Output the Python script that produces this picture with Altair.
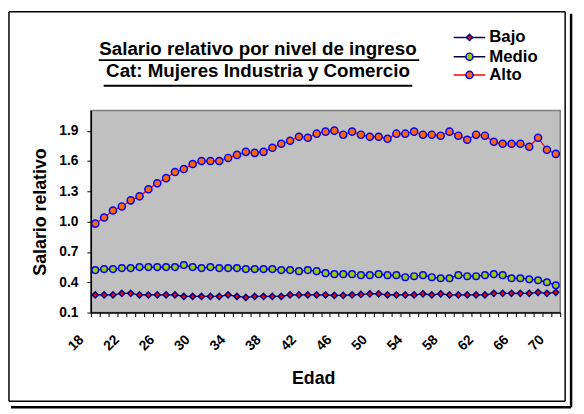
import altair as alt
import pandas as pd

# ---------------- data ----------------
ages = list(range(18, 71))
bajo = [0.275, 0.275, 0.275, 0.29, 0.29, 0.275, 0.275, 0.275, 0.275, 0.275,
        0.26, 0.26, 0.26, 0.26, 0.26, 0.275, 0.26, 0.25, 0.26, 0.26,
        0.26, 0.26, 0.275, 0.275, 0.275, 0.275, 0.275,
        0.27, 0.27, 0.275, 0.28, 0.285, 0.285, 0.275, 0.275, 0.275,
        0.275, 0.285, 0.275, 0.285, 0.275, 0.275, 0.275, 0.275, 0.275,
        0.29, 0.29, 0.29, 0.29, 0.29, 0.30, 0.29, 0.30]
medio = [0.52, 0.53, 0.53, 0.54, 0.54, 0.55, 0.55, 0.55, 0.55, 0.55,
         0.57, 0.55, 0.54, 0.55, 0.54, 0.54, 0.54, 0.53, 0.53, 0.53,
         0.53, 0.52, 0.52, 0.51, 0.52, 0.51, 0.49,
         0.48, 0.48, 0.48, 0.47, 0.47, 0.48, 0.47, 0.47, 0.45,
         0.46, 0.47, 0.45, 0.44, 0.44, 0.47, 0.46, 0.46, 0.47,
         0.48, 0.47, 0.44, 0.44, 0.43, 0.42, 0.40, 0.37]
alto = [0.98, 1.04, 1.11, 1.15, 1.21, 1.25, 1.32, 1.38, 1.43, 1.49,
        1.52, 1.57, 1.60, 1.60, 1.60, 1.63, 1.66, 1.69, 1.68, 1.69,
        1.73, 1.77, 1.80, 1.84, 1.83, 1.87, 1.89,
        1.90, 1.86, 1.89, 1.86, 1.84, 1.84, 1.82, 1.87, 1.87,
        1.89, 1.86, 1.86, 1.85, 1.89, 1.85, 1.81, 1.86, 1.85,
        1.79, 1.77, 1.77, 1.77, 1.74, 1.83, 1.71, 1.67]

series = ["Bajo", "Medio", "Alto"]
line_colors = ["#000080", "#000040", "#FF0000"]
fill_colors = ["#FF0000", "#99CC00", "#FF6600"]
stroke_colors = ["#000080", "#0000FF", "#0000FF"]
shapes = ["diamond", "circle", "circle"]
sizes = [38, 52, 52]

y_ticks = [0.1, 0.4, 0.7, 1.0, 1.3, 1.6, 1.9]
x_labels = [18, 22, 26, 30, 34, 38, 42, 46, 50, 54, 58, 62, 66, 70]
title_lines = ["Salario relativo por nivel de ingreso",
               "Cat: Mujeres Industria y Comercio"]
x_title = "Edad"
y_title = "Salario relativo"

FONT = "Liberation Sans"
W, H = 476, 205

# ---------------- table ----------------
rows = []
for name, vals in zip(series, [bajo, medio, alto]):
    for a, v in zip(ages, vals):
        rows.append({"edad": a, "valor": v, "serie": name})
df = pd.DataFrame(rows)

boundaries = [a - 0.5 for a in ages] + [ages[-1] + 0.5]
label_expr = ("indexof(" + str(x_labels) + ", datum.value + 0.5) >= 0 ? "
              "format(datum.value + 0.5, 'd') : ''")

x_enc = alt.X(
    "edad:Q",
    scale=alt.Scale(domain=[boundaries[0], boundaries[-1]], nice=False, zero=False),
    axis=alt.Axis(
        values=boundaries, tickCount=200, labelExpr=label_expr, labelAngle=-45,
        labelAlign="right", labelBaseline="middle", labelOffset=-9.8,
        labelPadding=21, labelOverlap=False, labelFlush=False, labelBound=False,
        tickSize=4, tickColor="black", tickWidth=1,
        labelFontSize=14, labelFont=FONT, labelFontWeight="bold", labelColor="black",
        domainColor="black", domainWidth=1.5, grid=False,
        title=x_title, titleFont=FONT, titleFontSize=18, titleFontWeight="bold",
        titleColor="black", titleX=225.5, titleY=71.7, titleBaseline="alphabetic",
        titleAlign="center",
    ),
)
y_enc = alt.Y(
    "valor:Q",
    scale=alt.Scale(domain=[0.1, 2.1], nice=False, zero=False),
    axis=alt.Axis(
        values=y_ticks, tickCount=50, format=".1f", tickSize=4, tickColor="black",
        tickWidth=1, labelOverlap=False, labelFlush=False,
        labelPadding=9, labelFontSize=14, labelFont=FONT, labelFontWeight="bold",
        labelColor="black", domainColor="black", domainWidth=1.5, grid=False,
        title=y_title, titleFont=FONT, titleFontSize=18, titleFontWeight="bold",
        titleColor="black", titleX=-45.5, titleY=H / 2, titleAngle=-90,
        titleBaseline="alphabetic", titleAlign="center",
    ),
)

base = alt.Chart(df)
lines = base.mark_line(strokeWidth=1.3).encode(
    x=x_enc, y=y_enc,
    color=alt.Color("serie:N", scale=alt.Scale(domain=series, range=line_colors), legend=None),
    detail="serie:N",
)
points = base.mark_point(filled=True, opacity=1, strokeWidth=1.5).encode(
    x="edad:Q", y="valor:Q",
    fill=alt.Fill("serie:N", scale=alt.Scale(domain=series, range=fill_colors), legend=None),
    stroke=alt.Stroke("serie:N", scale=alt.Scale(domain=series, range=stroke_colors), legend=None),
    shape=alt.Shape("serie:N", scale=alt.Scale(domain=series, range=shapes), legend=None),
    size=alt.Size("serie:N", scale=alt.Scale(domain=series, range=sizes), legend=None),
)

layers = [lines, points]

# ---------------- titles ----------------
one = pd.DataFrame({"k": [0]})
title_y = [-56.0, -33.5]
under_y = [-51.0, -25.0]
under_x = [(8, 333), (13, 326)]
for t, ty, uy, (ux1, ux2) in zip(title_lines, title_y, under_y, under_x):
    layers.append(
        alt.Chart(pd.DataFrame({"t": [t]})).mark_text(
            font=FONT, fontSize=19, fontWeight="bold", align="center",
            baseline="alphabetic", color="black",
        ).encode(x=alt.value(169.5), y=alt.value(ty), text="t:N")
    )
    layers.append(
        alt.Chart(one).mark_rule(color="black", strokeWidth=2).encode(
            x=alt.value(ux1), x2=alt.value(ux2), y=alt.value(uy))
    )

# ---------------- legend ----------------
leg_y = [-74.0, -54.5, -36.0]
for i, name in enumerate(series):
    ly = leg_y[i]
    layers.append(
        alt.Chart(one).mark_rule(color=line_colors[i], strokeWidth=1.5).encode(
            x=alt.value(368), x2=alt.value(400), y=alt.value(ly))
    )
    layers.append(
        alt.Chart(one).mark_point(
            filled=True, opacity=1, shape=shapes[i], size=sizes[i],
            fill=fill_colors[i], stroke=stroke_colors[i], strokeWidth=1.5,
        ).encode(x=alt.value(384), y=alt.value(ly))
    )
    layers.append(
        alt.Chart(pd.DataFrame({"serie": [name]})).mark_text(
            font=FONT, fontSize=17, fontWeight="bold", align="left",
            baseline="middle", color="black",
        ).encode(x=alt.value(404), y=alt.value(ly), text="serie:N")
    )

# ---------------- frame ----------------
frame = [
    (-83, -83, -100, 295, 1.5),   # left
    (-83, 481, -100, -100, 1.5),  # top
    (481, 481, -100, 295, 1.5),   # right
    (-83, 481, 295, 295, 1.5),    # bottom
    (487, 487, -98, 301, 2.5),    # right shadow
    (-81, 487, 301, 301, 2.5),    # bottom shadow
]
for x1, x2, y1, y2, sw in frame:
    layers.append(
        alt.Chart(one).mark_rule(color="black", strokeWidth=sw).encode(
            x=alt.value(x1), x2=alt.value(x2), y=alt.value(y1), y2=alt.value(y2))
    )

chart = alt.layer(*layers).properties(
    width=W, height=H,
    autosize=alt.AutoSizeParams(type="none"),
    padding={"left": 84, "top": 101, "right": 16, "bottom": 100},
    background="white",
).configure_view(
    fill="#C0C0C0", stroke="#808080", strokeWidth=1.5,
)

chart.save("out.html", embed_options={"renderer": "svg", "actions": False})
